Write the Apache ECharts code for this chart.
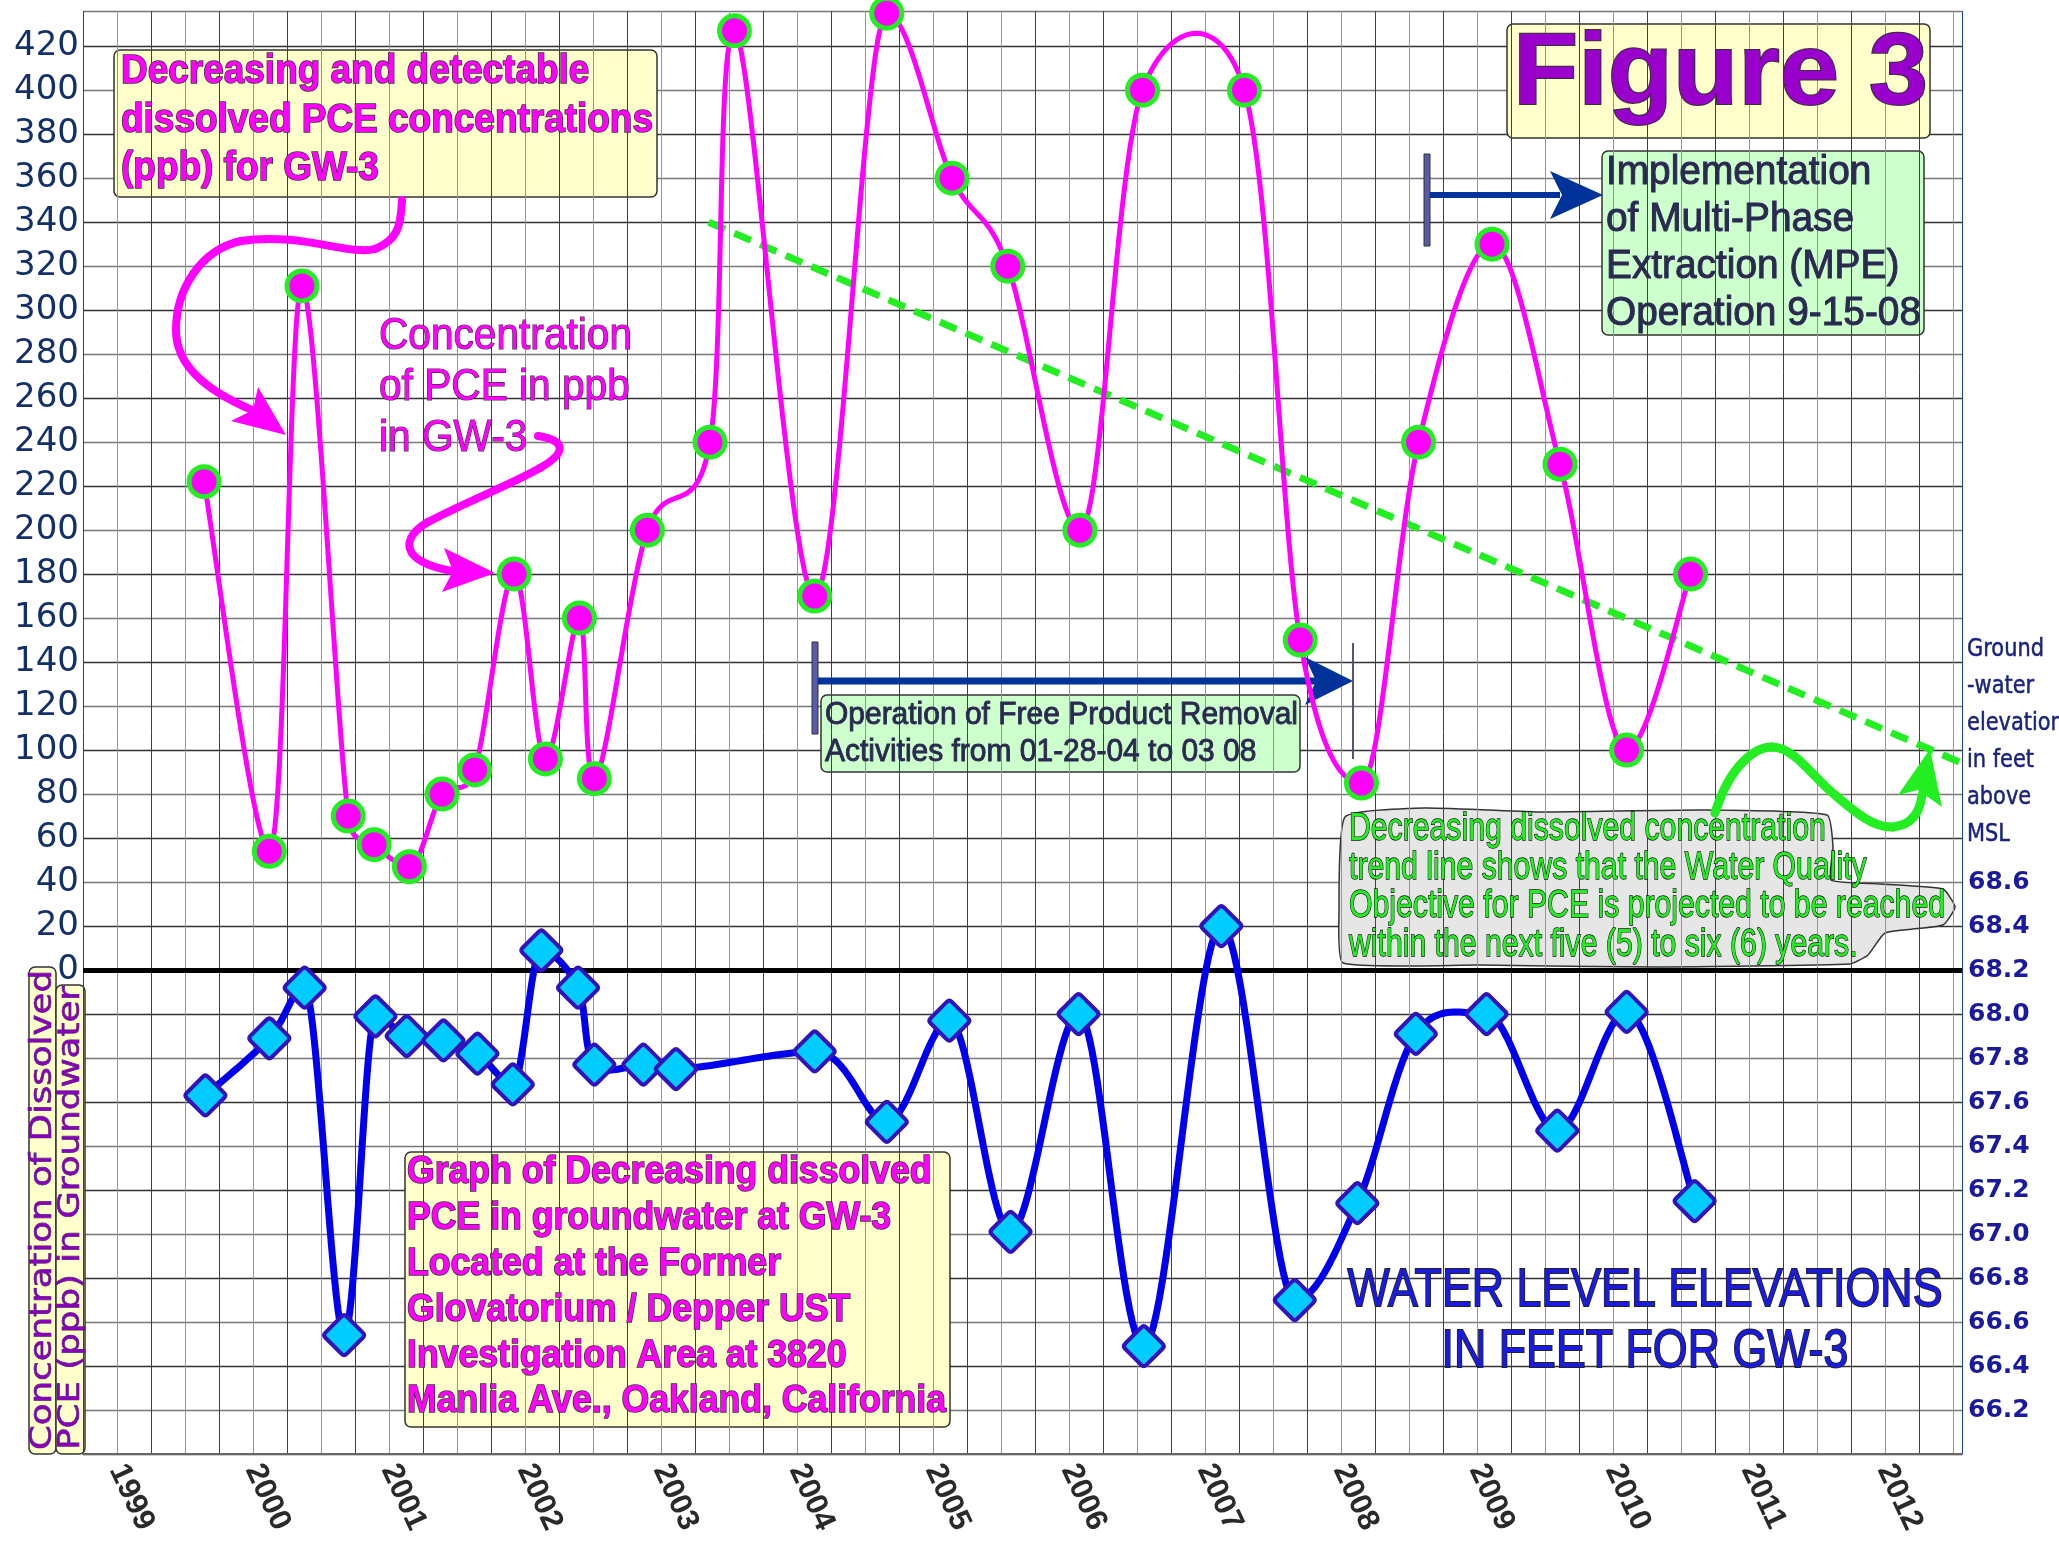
<!DOCTYPE html>
<html>
<head>
<meta charset="utf-8">
<title>Figure 3 - PCE and water level at GW-3</title>
<script src="https://cdn.jsdelivr.net/npm/echarts@6/dist/echarts.min.js"></script>
<style>
  html, body { margin: 0; padding: 0; background: #fff; }
  #chart { width: 2059px; height: 1543px; }
</style>
</head>
<body>
<div id="chart"></div>
<script>
// PCE in groundwater at GW-3 (ppb), sample dates as decimal years
var pceDates = [1999.64, 2000.12, 2000.36, 2000.70, 2000.89, 2001.15, 2001.39, 2001.63, 2001.92, 2002.15,
                2002.40, 2002.51, 2002.90, 2003.36, 2003.54, 2004.13, 2004.66, 2005.14, 2005.55, 2006.08,
                2006.54, 2007.29, 2007.70, 2008.15, 2008.57, 2009.11, 2009.61, 2010.10, 2010.57];
var pceValues = [222, 54, 311, 70, 57, 47, 80, 91, 180, 96,
                 160, 87, 200, 240, 427, 170, 435, 360, 320, 200,
                 400, 400, 150, 85, 240, 330, 230, 100, 180];

// water level elevation (feet above MSL)
var wlDates = [1999.65, 2000.12, 2000.38, 2000.67, 2000.90, 2001.13, 2001.40, 2001.65, 2001.91, 2002.12,
               2002.39, 2002.51, 2002.87, 2003.11, 2004.13, 2004.66, 2005.12, 2005.57, 2006.07, 2006.55,
               2007.12, 2007.66, 2008.12, 2008.55, 2009.07, 2009.59, 2010.10, 2010.60];
var wlValues = [67.63, 67.89, 68.12, 66.54, 67.99, 67.90, 67.88, 67.82, 67.68, 68.29,
                68.12, 67.77, 67.77, 67.75, 67.83, 67.51, 67.97, 67.01, 68.00, 66.49,
                68.40, 66.70, 67.14, 67.91, 68.00, 67.47, 68.01, 67.15];

// projected trend line
var trendDates = [2003.35, 2013.28];
var trendValues = [340, 75];

// tick labels
var yearLabels = [1999, 2000, 2001, 2002, 2003, 2004, 2005, 2006, 2007, 2008, 2009, 2010, 2011, 2012];
var pceTickLabels = [0, 20, 40, 60, 80, 100, 120, 140, 160, 180, 200, 220, 240, 260, 280, 300, 320, 340, 360, 380, 400, 420];
var wlTickLabels = ['66.2', '66.4', '66.6', '66.8', '67.0', '67.2', '67.4', '67.6', '67.8', '68.0', '68.2', '68.4', '68.6'];

function zip(xs, ys) {
    var out = [];
    for (var i = 0; i < xs.length; i++) out.push([xs[i], ys[i]]);
    return out;
}

var pceData = zip(pceDates, pceValues);
var wlData = zip(wlDates, wlValues);

var diamond = 'path://M44,6 Q50,0 56,6 L94,44 Q100,50 94,56 L56,94 Q50,100 44,94 L6,56 Q0,50 6,44 Z';

// smoothed curve through pixel points: catmull-rom tangents, flat at real peaks/troughs,
// handles kept shorter than the segment so short hops don't hook
function spline(pts) {
    var n = pts.length, tan = [], out = [];
    for (var i = 0; i < n; i++) {
        var a = pts[i - 1] || pts[i], b = pts[i + 1] || pts[i];
        var t = [(b[0] - a[0]) / 6, (b[1] - a[1]) / 6];
        var y = pts[i][1];
        if (i > 0 && i < n - 1 && ((y < a[1] && y < b[1]) || (y > a[1] && y > b[1]))) t[1] = 0;
        tan.push(t);
    }
    function clamp(v, len) {
        var m = Math.sqrt(v[0] * v[0] + v[1] * v[1]);
        return m > len ? [v[0] * len / m, v[1] * len / m] : v;
    }
    for (var j = 0; j < n - 1; j++) {
        var p1 = pts[j], p2 = pts[j + 1];
        var L = 0.8 * Math.sqrt(Math.pow(p2[0] - p1[0], 2) + Math.pow(p2[1] - p1[1], 2));
        var t1 = clamp(tan[j], L), t2 = clamp(tan[j + 1], L);
        var c1 = [p1[0] + t1[0], p1[1] + t1[1]];
        var c2 = [p2[0] - t2[0], p2[1] - t2[1]];
        for (var s = 0; s < 24; s++) {
            var q = s / 24, u = 1 - q;
            var k0 = u * u * u, k1 = 3 * u * u * q, k2 = 3 * u * q * q, k3 = q * q * q;
            out.push([k0 * p1[0] + k1 * c1[0] + k2 * c2[0] + k3 * p2[0],
                      k0 * p1[1] + k1 * c1[1] + k2 * c2[1] + k3 * p2[1]]);
        }
    }
    out.push(pts[n - 1]);
    return out;
}

function curveSeries(data, yIndex, color, width, z) {
    return {
        type: 'custom', yAxisIndex: yIndex, z: z, silent: true, data: data,
        renderItem: function (params, api) {
            if (params.dataIndex !== 0) return null;
            var pts = data.map(function (d) { return api.coord(d); });
            return {
                type: 'polyline', shape: { points: spline(pts) },
                style: { fill: null, stroke: color, lineWidth: width, lineJoin: 'round', lineCap: 'round' }
            };
        }
    };
}

// squeeze a text line horizontally so it spans the width seen in the figure
var measureCtx = document.createElement('canvas').getContext('2d');
function fitScale(str, font, width) {
    measureCtx.font = font;
    return width / measureCtx.measureText(str).width;
}

function textBlock(lines, o) {
    var font = (o.weight || 'normal') + ' ' + o.size + 'px ' + o.family;
    var sx = fitScale(o.fitLine || lines[0], font, o.fitWidth);
    var align = o.align || 'left';
    return lines.map(function (t, i) {
        var st = {
            text: t, font: font, fill: o.fill,
            align: align, textAlign: align,
            verticalAlign: 'middle', textVerticalAlign: 'middle'
        };
        if (o.stroke) { st.stroke = o.stroke; st.lineWidth = o.lw; }
        return {
            type: 'text', z: 7, x: o.x, y: o.y + i * (o.lh || 0),
            scaleX: sx, rotation: o.rotation || 0, silent: true, style: st
        };
    });
}

function box(x, y, w, h, fill) {
    return {
        type: 'rect', z: 1, silent: true,
        shape: { x: x, y: y, width: w, height: h, r: 6 },
        style: { fill: fill, stroke: '#333', lineWidth: 1.5 }
    };
}

function curves(segs, color, width) {
    return segs.map(function (s) {
        return {
            type: 'bezierCurve', z: 4, silent: true,
            shape: { x1: s[0], y1: s[1], cpx1: s[2], cpy1: s[3], cpx2: s[4], cpy2: s[5], x2: s[6], y2: s[7] },
            style: { fill: null, stroke: color, lineWidth: width, lineCap: 'round' }
        };
    });
}

function head(points, color) {
    return { type: 'polygon', z: 4, silent: true, shape: { points: points }, style: { fill: color } };
}

var magenta = '#ff00ff';
var green = '#22ee22';
var navy = '#003399';
var futura = '"Liberation Sans", Arial, sans-serif';
var verdana = '"DejaVu Sans", Verdana, sans-serif';

var graphics = [
    box(114, 50, 543, 147, '#ffffcc'),
    box(1507, 24, 423, 114, '#ffffcc'),
    box(1602, 151, 322, 184, '#ccffcc'),
    box(821, 695, 479, 77, '#ccffcc'),
    box(405, 1152, 545, 275, '#ffffcc'),
    box(29, 967, 27, 487, '#ffffcc'),
    box(56, 985, 29, 469, '#ffffcc'),
    {
        type: 'polygon', z: 1, silent: true,
        shape: {
            smooth: 0.15,
            points: [[1345, 817], [1425, 808], [1541, 812], [1702, 810], [1827, 815], [1833, 847], [1831, 880],
                     [1880, 884], [1943, 889], [1955, 907], [1943, 925], [1885, 933], [1868, 955], [1850, 964],
                     [1657, 967], [1479, 965], [1343, 963], [1339, 913]]
        },
        style: { fill: '#e6e6e6', stroke: '#333', lineWidth: 1.5 }
    },
    // MPE start marker and arrow
    { type: 'rect', z: 4, silent: true, shape: { x: 1424, y: 154, width: 6, height: 92 },
      style: { fill: '#5a5aaa', stroke: '#333', lineWidth: 1 } },
    { type: 'line', z: 4, silent: true, shape: { x1: 1430, y1: 195, x2: 1560, y2: 195 },
      style: { stroke: navy, lineWidth: 6 } },
    head([[1603, 195], [1550, 171], [1562, 195], [1550, 219]], navy),
    // free product removal period
    { type: 'rect', z: 4, silent: true, shape: { x: 812, y: 642, width: 6, height: 92 },
      style: { fill: '#5a5aaa', stroke: '#333', lineWidth: 1 } },
    { type: 'line', z: 4, silent: true, shape: { x1: 818, y1: 681, x2: 1316, y2: 681 },
      style: { stroke: navy, lineWidth: 7 } },
    head([[1353, 681], [1305, 657], [1316, 681], [1305, 705]], navy),
    { type: 'line', z: 4, silent: true, shape: { x1: 1353, y1: 643, x2: 1353, y2: 759 },
      style: { stroke: '#555577', lineWidth: 2 } },
    head([[286, 435], [258, 387], [253, 410], [231, 421]], magenta),
    head([[495, 573], [444, 548], [453, 571], [442, 592]], magenta),
    head([[1930, 749], [1898, 795], [1918, 790], [1942, 807]], green)
];

graphics = graphics
    .concat(curves([
        [402, 200, 401, 225, 398, 240, 375, 249],
        [375, 249, 350, 256, 300, 232, 241, 241],
        [241, 241, 200, 250, 176, 290, 176, 330],
        [176, 330, 176, 365, 205, 390, 252, 410]
    ], magenta, 8))
    .concat(curves([
        [538, 436, 565, 440, 568, 452, 540, 468],
        [540, 468, 510, 485, 470, 500, 428, 522],
        [428, 522, 400, 538, 400, 562, 452, 571]
    ], magenta, 8))
    .concat(curves([
        [1715, 813, 1730, 765, 1755, 747, 1772, 747],
        [1772, 747, 1795, 747, 1815, 780, 1835, 795],
        [1835, 795, 1858, 815, 1875, 828, 1893, 827],
        [1893, 827, 1912, 825, 1920, 812, 1922, 795]
    ], green, 9))
    .concat(textBlock(['Decreasing and detectable', 'dissolved PCE concentrations', '(ppb) for GW-3'], {
        x: 121, y: 72, lh: 48.5, size: 40, weight: 'bold', family: futura,
        fill: magenta, stroke: '#333', lw: 1.5, fitLine: 'dissolved PCE concentrations', fitWidth: 532
    }))
    .concat(textBlock(['Concentration', 'of PCE in ppb', 'in GW-3'], {
        x: 379, y: 337, lh: 51, size: 44, family: futura,
        fill: magenta, stroke: '#333', lw: 1.2, fitWidth: 253
    }))
    .concat(textBlock(['Figure 3'], {
        x: 1513, y: 76, size: 102, weight: 'bold', family: futura,
        fill: '#9900cc', stroke: '#333', lw: 2, fitWidth: 415
    }))
    .concat(textBlock(['Implementation', 'of Multi-Phase', 'Extraction (MPE)', 'Operation 9-15-08'], {
        x: 1606, y: 173, lh: 47, size: 40, family: futura,
        fill: '#2a2a50', stroke: '#2a2a50', lw: 1, fitLine: 'Operation 9-15-08', fitWidth: 315
    }))
    .concat(textBlock(['Operation of Free Product Removal', 'Activities from 01-28-04 to 03 08'], {
        x: 825, y: 715, lh: 37, size: 31, family: futura,
        fill: '#2a2a50', stroke: '#2a2a50', lw: 0.9, fitWidth: 473
    }))
    .concat(textBlock(['Graph of Decreasing dissolved', 'PCE in groundwater at GW-3', 'Located at the Former',
                       'Glovatorium / Depper UST', 'Investigation Area at 3820', 'Manlia Ave., Oakland, California'], {
        x: 407, y: 1173, lh: 45.8, size: 38, weight: 'bold', family: futura,
        fill: magenta, stroke: '#333', lw: 1.5, fitLine: 'Manlia Ave., Oakland, California', fitWidth: 539
    }))
    .concat(textBlock(['WATER LEVEL ELEVATIONS', 'IN FEET FOR GW-3'], {
        x: 1645, y: 1291, lh: 61, size: 54, family: futura, align: 'center',
        fill: '#1a1ae0', stroke: '#222', lw: 1.8, fitWidth: 595
    }))
    .concat(textBlock(['Decreasing dissolved concentration', 'trend line shows that the Water Quality',
                       'Objective for PCE is projected to be reached', 'within the next five (5) to six (6) years.'], {
        x: 1349, y: 830, lh: 38.5, size: 38, family: futura,
        fill: green, stroke: '#111', lw: 1.3, fitLine: 'Objective for PCE is projected to be reached', fitWidth: 596
    }))
    .concat(textBlock(['Ground', '-water', 'elevation', 'in feet', 'above', 'MSL'], {
        x: 1967, y: 650, lh: 37, size: 24, family: verdana, fill: '#1a237e',
        stroke: '#1a237e', lw: 0.5, fitWidth: 77
    }))
    .concat(textBlock(['Concentration of Dissolved'], {
        x: 43, y: 1450, size: 30, family: verdana, rotation: Math.PI / 2,
        fill: '#8800bb', stroke: '#333', lw: 0.6, fitWidth: 480
    }))
    .concat(textBlock(['PCE (ppb) in Groundwater'], {
        x: 71, y: 1450, size: 30, family: verdana, rotation: Math.PI / 2,
        fill: '#8800bb', stroke: '#333', lw: 0.6, fitWidth: 464
    }));

var chart = echarts.init(document.getElementById('chart'));

chart.setOption({
    backgroundColor: '#ffffff',
    animation: false,
    grid: { left: 83, right: 97, top: 11, bottom: 89, containLabel: false, outerBoundsMode: 'none' },
    xAxis: {
        type: 'value', min: 1998.75, max: 2012.566, interval: 0.25, z: 2,
        axisLine: { show: true, onZero: false, lineStyle: { color: '#666', width: 2 } },
        axisTick: { show: false },
        splitLine: { show: true, lineStyle: { color: ['#1f3f9f', '#7f95cc'], width: 1 } },
        axisLabel: {
            rotate: -65, margin: 12, interval: 0,
            color: '#2a2a2a', fontSize: 31, fontWeight: 'bold', fontFamily: futura,
            formatter: function (v) { return yearLabels.indexOf(v) >= 0 ? String(v) : ''; }
        }
    },
    yAxis: [{
        type: 'value', min: -220, max: 436, interval: 20, z: 0,
        axisLine: { show: false, onZero: false },
        axisTick: { show: false },
        splitLine: { show: true, lineStyle: { color: ['#333', '#777'], width: 1.3 } },
        axisLabel: {
            margin: 4, color: '#13306b', fontSize: 34, fontFamily: verdana,
            formatter: function (v) { return pceTickLabels.indexOf(v) >= 0 ? String(v) : ''; }
        }
    }, {
        type: 'value', position: 'right', min: 66.0, max: 72.56, interval: 0.2, z: 0,
        axisLine: { show: false, onZero: false },
        axisTick: { show: false },
        splitLine: { show: false },
        axisLabel: {
            margin: 6, color: '#1a1aa0', fontSize: 25, fontWeight: 'bold', fontFamily: verdana,
            formatter: function (v) {
                var s = v.toFixed(1);
                return wlTickLabels.indexOf(s) >= 0 ? s : '';
            }
        }
    }],
    graphic: { elements: graphics },
    series: [{
        name: 'Trend', type: 'line', z: 4, silent: true, clip: false,
        data: zip(trendDates, trendValues), symbol: 'none',
        lineStyle: { color: green, width: 7, type: [18, 10] },
        markLine: {
            silent: true, symbol: ['none', 'none'], label: { show: false },
            lineStyle: { color: '#000', width: 5, type: 'solid' },
            data: [{ yAxis: 0 }]
        }
    },
    curveSeries(pceData, 0, magenta, 5, 5),
    curveSeries(wlData, 1, '#0000ee', 7, 5),
    {
        name: 'PCE (ppb)', type: 'line', z: 6, silent: true, clip: false,
        data: pceData, symbol: 'circle', symbolSize: 30,
        lineStyle: { width: 0, opacity: 0 },
        itemStyle: { color: magenta, borderColor: green, borderWidth: 5 }
    }, {
        name: 'Water level (ft MSL)', type: 'line', yAxisIndex: 1, z: 6, silent: true, clip: false,
        data: wlData, symbol: diamond, symbolSize: 40,
        lineStyle: { width: 0, opacity: 0 },
        itemStyle: { color: '#00ccff', borderColor: '#3311bb', borderWidth: 4 }
    }]
});
</script>
</body>
</html>
